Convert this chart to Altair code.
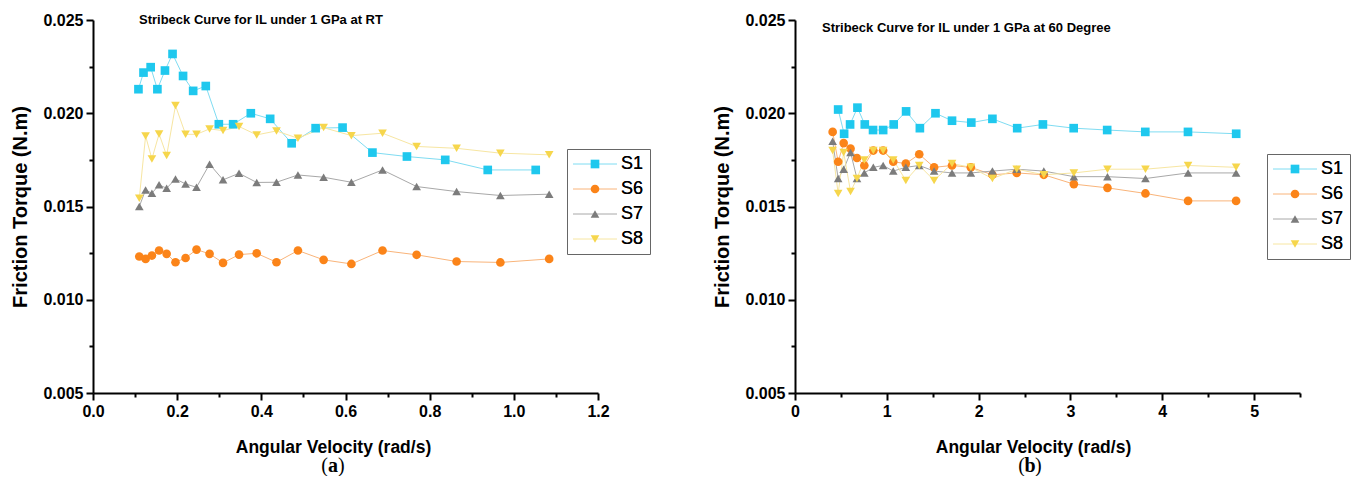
import altair as alt
import pandas as pd

SERIES = ["S1", "S6", "S7", "S8"]
MARK_COLORS = ["#1fc8ee", "#fb8419", "#7c7c7c", "#f6d64c"]
LINE_COLORS = ["#7fdcf2", "#f9b47a", "#a8a8a8", "#f7e6a2"]
SHAPES = ["square", "circle", "triangle-up", "triangle-down"]

# ---------------- panel (a): room temperature ----------------
a_s1_x = [0.108, 0.120, 0.137, 0.153, 0.171, 0.189, 0.214, 0.238, 0.268, 0.299, 0.333,
          0.375, 0.421, 0.472, 0.529, 0.593, 0.664, 0.746, 0.837, 0.938, 1.052]
a_s1_y = [0.02129, 0.02218, 0.02247, 0.02129, 0.02229, 0.02318, 0.02200, 0.02120, 0.02146,
          0.01941, 0.01941, 0.02000, 0.01970, 0.01839, 0.01920, 0.01923, 0.01789, 0.01768,
          0.01750, 0.01696, 0.01696]
a_x = [0.110, 0.125, 0.140, 0.157, 0.175, 0.196, 0.220, 0.246, 0.277, 0.309, 0.347,
       0.389, 0.436, 0.487, 0.548, 0.614, 0.688, 0.769, 0.864, 0.968, 1.084]
a_s6_y = [0.01232, 0.01219, 0.01237, 0.01264, 0.01246, 0.01201, 0.01224, 0.01269, 0.01246,
          0.01198, 0.01242, 0.01249, 0.01201, 0.01264, 0.01214, 0.01192, 0.01264, 0.01241,
          0.01205, 0.01200, 0.01219]
a_s7_y = [0.01500, 0.01589, 0.01571, 0.01616, 0.01598, 0.01648, 0.01621, 0.01603, 0.01727,
          0.01643, 0.01678, 0.01629, 0.01630, 0.01669, 0.01657, 0.01630, 0.01696, 0.01607,
          0.01580, 0.01559, 0.01566]
a_s8_y = [0.01544, 0.01878, 0.01755, 0.01889, 0.01773, 0.02041, 0.01887, 0.01887, 0.01916,
          0.01907, 0.01929, 0.01884, 0.01905, 0.01866, 0.01923, 0.01880, 0.01893, 0.01822,
          0.01812, 0.01786, 0.01777]

# ---------------- panel (b): 60 degree ----------------
b_s1_x = [0.47, 0.535, 0.60, 0.68, 0.76, 0.85, 0.96, 1.075, 1.21, 1.36, 1.53, 1.71, 1.92,
          2.15, 2.42, 2.70, 3.035, 3.40, 3.815, 4.28, 4.805]
b_s1_y = [0.0202, 0.0189, 0.0194, 0.0203, 0.0194, 0.0191, 0.0191, 0.0194, 0.0201, 0.0192,
          0.0200, 0.0196, 0.0195, 0.0197, 0.0192, 0.0194, 0.0192, 0.0191, 0.0190, 0.0190,
          0.0189]
b_x = [0.41, 0.47, 0.53, 0.605, 0.675, 0.755, 0.853, 0.96, 1.07, 1.207, 1.353, 1.515, 1.71,
       1.915, 2.15, 2.415, 2.71, 3.037, 3.403, 3.817, 4.281, 4.804]
b_s6_y = [0.0190, 0.0174, 0.0184, 0.0181, 0.0176, 0.0172, 0.0180, 0.0180, 0.0174, 0.0173,
          0.0178, 0.0171, 0.0172, 0.0171, 0.0167, 0.0168, 0.0167, 0.0162, 0.0160, 0.0157,
          0.0153, 0.0153]
b_s7_y = [0.0185, 0.0165, 0.0170, 0.0179, 0.0165, 0.0168, 0.0171, 0.0172, 0.0169, 0.0171,
          0.0172, 0.0169, 0.0168, 0.0168, 0.0169, 0.0170, 0.0169, 0.0166, 0.0166, 0.0165,
          0.0168, 0.0168]
b_s8_y = [0.0180, 0.0157, 0.0179, 0.0158, 0.0165, 0.0175, 0.0180, 0.0180, 0.0175, 0.0164,
          0.0172, 0.0164, 0.0173, 0.0171, 0.0165, 0.0170, 0.0167, 0.0168, 0.0170, 0.0170,
          0.0172, 0.0171]

TITLE_A = "Stribeck Curve for IL under 1 GPa at RT"
TITLE_B = "Stribeck Curve for IL under 1 GPa at 60 Degree"
X_TITLE = "Angular Velocity (rad/s)"
Y_TITLE = "Friction Torque (N.m)"
Y_TICKS = [0.005, 0.0075, 0.01, 0.0125, 0.015, 0.0175, 0.02, 0.0225, 0.025]
A_X_TICKS = [0.0, 0.1, 0.2, 0.3, 0.4, 0.5, 0.6, 0.7, 0.8, 0.9, 1.0, 1.1, 1.2]
B_X_TICKS = [0.0, 0.5, 1.0, 1.5, 2.0, 2.5, 3.0, 3.5, 4.0, 4.5, 5.0, 5.5]

FONT = "Liberation Sans"
SERIF = "Liberation Serif"
W, H = 505, 373


def long_df(pairs):
    rows = []
    for name, xs, ys in pairs:
        for xv, yv in zip(xs, ys):
            rows.append({"s": name, "v": xv, "t": yv})
    return pd.DataFrame(rows)


df_a = long_df([("S1", a_s1_x, a_s1_y), ("S6", a_x, a_s6_y),
                ("S7", a_x, a_s7_y), ("S8", a_x, a_s8_y)])
df_b = long_df([("S1", b_s1_x, b_s1_y), ("S6", b_x, b_s6_y),
                ("S7", b_x, b_s7_y), ("S8", b_x, b_s8_y)])


def text_layer(txt, x, y, **kw):
    return alt.Chart(pd.DataFrame({"label": [txt]})).mark_text(color="black", **kw).encode(
        x=alt.value(x), y=alt.value(y), text="label:N")


def panel(df, xdomain, xticks, major_test, label_fmt, title, letter,
          title_x, title_y, leg_x, leg_y, xtitle_x, cap_x):
    xaxis = alt.Axis(
        values=xticks, title=X_TITLE, titleFont=FONT, titleFontSize=17.5,
        titleFontWeight="bold", titleColor="black", titlePadding=19, titleX=xtitle_x,
        labelExpr=f"({major_test}) ? format(datum.value, '{label_fmt}') : ''",
        labelFont=FONT, labelFontSize=16, labelFontWeight="bold", labelColor="black",
        labelPadding=3, labelFlush=False, labelOverlap=False,
        tickSize={"condition": {"test": major_test, "value": 7}, "value": 4},
        tickWidth=2, tickColor="black", domainWidth=2, domainColor="black", grid=False,
    )
    ytest = "round(datum.value*10000) % 50 == 0"
    yaxis = alt.Axis(
        values=Y_TICKS, title=Y_TITLE, titleFont=FONT, titleFontSize=20,
        titleFontWeight="bold", titleColor="black", titlePadding=12,
        labelExpr=f"({ytest}) ? format(datum.value, '.3f') : ''",
        labelFont=FONT, labelFontSize=16, labelFontWeight="bold", labelColor="black",
        labelPadding=3, labelFlush=False, labelOverlap=False,
        tickSize={"condition": {"test": ytest, "value": 7}, "value": 4},
        tickWidth=2, tickColor="black", domainWidth=2, domainColor="black", grid=False,
    )
    x = alt.X("v:Q", scale=alt.Scale(domain=xdomain, nice=False, zero=False), axis=xaxis)
    y = alt.Y("t:Q", scale=alt.Scale(domain=[0.005, 0.025], nice=False, zero=False), axis=yaxis)

    leg_common = dict(orient="none", legendX=leg_x, legendY=leg_y, title=None,
                      labelFont=FONT, labelFontSize=18, labelColor="black",
                      padding=6, rowPadding=7, symbolOffset=13, labelOffset=17)
    line_legend = alt.Legend(symbolType="M-5.5,0H5.5", symbolSize=64, symbolStrokeWidth=1,
                             strokeColor="#666666", **leg_common)
    point_legend = alt.Legend(symbolSize=75, symbolStrokeWidth=0, **leg_common)

    base = alt.Chart(df)
    lines = base.mark_line(strokeWidth=1).encode(
        x=x, y=y,
        stroke=alt.Stroke("s:N", scale=alt.Scale(domain=SERIES, range=LINE_COLORS),
                          legend=line_legend),
    )
    points = base.mark_point(filled=True, size=75, opacity=1, strokeWidth=0).encode(
        x=x, y=y,
        shape=alt.Shape("s:N", scale=alt.Scale(range=SHAPES), legend=point_legend),
        fill=alt.Fill("s:N", scale=alt.Scale(range=MARK_COLORS), legend=point_legend),
    )
    ttl = text_layer(title, title_x, title_y, align="left", baseline="middle",
                     font=FONT, fontSize=13, fontWeight="bold")
    cy = H + 73
    cap_open = text_layer("(", cap_x - 5, cy, align="right", baseline="middle",
                          font=SERIF, fontSize=20)
    cap_letter = text_layer(letter, cap_x, cy, align="center", baseline="middle",
                            font=SERIF, fontSize=20, fontWeight="bold")
    cap_close = text_layer(")", cap_x + 5, cy, align="left", baseline="middle",
                           font=SERIF, fontSize=20)
    return alt.layer(lines, points, ttl, cap_open, cap_letter, cap_close).properties(
        width=W, height=H)


left = panel(df_a, [0, 1.2], A_X_TICKS, "round(datum.value*10) % 2 == 0", ".1f",
             TITLE_A, "a", 46, 0, 474, 129, 240, 240)
right = panel(df_b, [0, 5.5], B_X_TICKS, "round(datum.value*2) % 2 == 0", "d",
              TITLE_B, "b", 27, 8, 472, 134, 238, 235)

chart = (
    alt.hconcat(left, right, spacing=61)
    .resolve_scale(stroke="independent", shape="independent", fill="independent")
    .resolve_legend(stroke="independent", shape="independent", fill="independent")
    .properties(padding={"left": 2, "top": 4, "right": 2, "bottom": 0})
    .configure_view(stroke=None)
)

chart.save("out.html", embed_options={"renderer": "svg", "actions": False})
